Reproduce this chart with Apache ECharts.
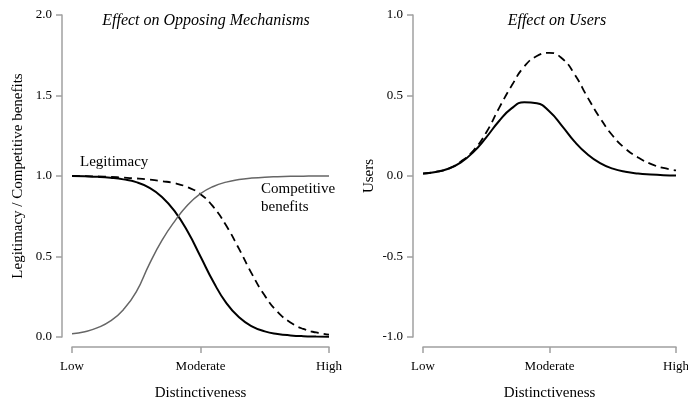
<!DOCTYPE html>
<html>
<head>
<meta charset="utf-8">
<script src="https://cdn.jsdelivr.net/npm/echarts@6/dist/echarts.min.js"></script>
<style>
  html, body { margin: 0; padding: 0; background: #fff; }
  #chart { width: 688px; height: 401px; }
</style>
</head>
<body>
<div id="chart"></div>
<script>
// distinctiveness positions: 0 = Low, 0.5 = Moderate, 1 = High
const xs = [0, 0.05, 0.1, 0.15, 0.2, 0.25, 0.3, 0.35, 0.4, 0.45, 0.5,
  0.55, 0.6, 0.65, 0.7, 0.75, 0.8, 0.85, 0.9, 0.95, 1];
const xTickLabels = { 0: "Low", 0.5: "Moderate", 1: "High" };

// left panel: opposing mechanisms
const legitimacy = [1.0, 0.998, 0.995, 0.989, 0.979, 0.962, 0.928, 0.87, 0.78, 0.655, 0.5,
  0.343, 0.212, 0.122, 0.066, 0.035, 0.019, 0.01, 0.005, 0.003, 0.002];
const legitimacyShift = [1.0, 0.999, 0.997, 0.994, 0.99, 0.985, 0.978, 0.968, 0.955, 0.93, 0.887,
  0.808, 0.692, 0.547, 0.392, 0.257, 0.156, 0.09, 0.05, 0.028, 0.015];
const competitive = [0.02, 0.033, 0.058, 0.1, 0.17, 0.28, 0.45, 0.6, 0.72, 0.82, 0.89,
  0.935, 0.962, 0.978, 0.987, 0.993, 0.996, 0.998, 0.999, 1.0, 1.0];

// right panel: users
const users = [0.015, 0.025, 0.045, 0.085, 0.15, 0.24, 0.34, 0.42, 0.458, 0.452, 0.4,
  0.31, 0.212, 0.135, 0.08, 0.046, 0.026, 0.015, 0.009, 0.005, 0.003];
const usersShift = [0.015, 0.025, 0.045, 0.09, 0.16, 0.27, 0.42, 0.56, 0.68, 0.745, 0.765,
  0.73, 0.63, 0.49, 0.36, 0.25, 0.17, 0.115, 0.075, 0.05, 0.035];

const pair = (ys) => xs.map((x, i) => [x, ys[i]]);

const font = "Liberation Serif";
const axisGray = "#a0a0a0";

const xAxisBase = {
  type: "value",
  min: 0,
  max: 1,
  interval: 0.5,
  offset: 10,
  name: "Distinctiveness",
  nameLocation: "middle",
  nameGap: 39,
  nameMoveOverlap: false,
  nameTextStyle: { fontFamily: font, fontSize: 15, color: "#000" },
  axisLine: { show: true, onZero: false, lineStyle: { color: axisGray, width: 1.5 } },
  axisTick: { show: true, length: 6, lineStyle: { color: axisGray, width: 1.5 } },
  axisLabel: {
    fontFamily: font, fontSize: 13, color: "#000", margin: 13,
    formatter: (v) => xTickLabels[v] || ""
  },
  splitLine: { show: false }
};

const yAxisBase = {
  type: "value",
  interval: 0.5,
  offset: 10,
  nameLocation: "middle",
  nameGap: 36,
  nameMoveOverlap: false,
  nameTextStyle: { fontFamily: font, fontSize: 15, color: "#000" },
  axisLine: { show: true, onZero: false, lineStyle: { color: axisGray, width: 1.5 } },
  axisTick: { show: true, length: 6, lineStyle: { color: axisGray, width: 1.5 } },
  axisLabel: {
    fontFamily: font, fontSize: 13, color: "#000", margin: 10,
    formatter: (v) => v.toFixed(1)
  },
  splitLine: { show: false }
};

const chart = echarts.init(document.getElementById("chart"));

const lineSeries = (name, xi, ys, style) => ({
  name: name, type: "line", xAxisIndex: xi, yAxisIndex: xi,
  data: pair(ys), smooth: 0.5, showSymbol: false,
  lineStyle: style
});

const option = {
  animation: false,
  backgroundColor: "#fff",
  title: [
    {
      text: "Effect on Opposing Mechanisms",
      left: 201, top: 8, textAlign: "center",
      textStyle: { fontFamily: font, fontSize: 16, fontStyle: "italic", fontWeight: "normal", color: "#000" }
    },
    {
      text: "Effect on Users",
      left: 552, top: 8, textAlign: "center",
      textStyle: { fontFamily: font, fontSize: 16, fontStyle: "italic", fontWeight: "normal", color: "#000" }
    }
  ],
  grid: [
    { left: 72, top: 15, width: 257, height: 322, outerBoundsMode: "none" },
    { left: 423, top: 15, width: 253, height: 322, outerBoundsMode: "none" }
  ],
  xAxis: [
    Object.assign({}, xAxisBase, { gridIndex: 0 }),
    Object.assign({}, xAxisBase, { gridIndex: 1 })
  ],
  yAxis: [
    Object.assign({}, yAxisBase, {
      gridIndex: 0, min: 0, max: 2,
      name: "Legitimacy / Competitive benefits"
    }),
    Object.assign({}, yAxisBase, {
      gridIndex: 1, min: -1, max: 1,
      name: "Users"
    })
  ],
  graphic: [
    {
      type: "text", left: 80, top: 155,
      style: { text: "Legitimacy", fontFamily: font, fontSize: 15, fill: "#000" }
    },
    {
      type: "text", left: 261, top: 180,
      style: { text: "Competitive\nbenefits", fontFamily: font, fontSize: 15, lineHeight: 18, fill: "#000" }
    }
  ],
  series: [
    lineSeries("Legitimacy", 0, legitimacy, { color: "#000", width: 2 }),
    lineSeries("Legitimacy (shifted)", 0, legitimacyShift, { color: "#000", width: 1.8, type: [8, 5] }),
    lineSeries("Competitive benefits", 0, competitive, { color: "#666", width: 1.5 }),
    lineSeries("Users", 1, users, { color: "#000", width: 2 }),
    lineSeries("Users (shifted)", 1, usersShift, { color: "#000", width: 1.8, type: [8, 5] })
  ]
};

chart.setOption(option);
</script>
</body>
</html>
